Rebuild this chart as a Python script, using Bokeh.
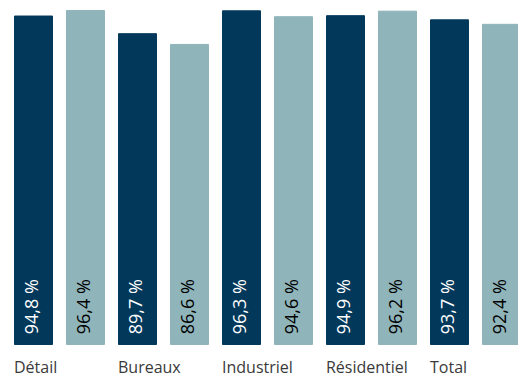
from bokeh.plotting import figure
from bokeh.models import ColumnDataSource, Range1d
from bokeh.core.properties import value
from bokeh.embed import file_html
from bokeh.resources import INLINE

categories = ["Détail", "Bureaux", "Industriel", "Résidentiel", "Total"]
series_a = [94.8, 89.7, 96.3, 94.9, 93.7]
series_b = [96.4, 86.6, 94.6, 96.2, 92.4]

dark = "#02385a"
light = "#8fb4ba"
bar_w = 0.73

def fmt(v):
    return f"{v:.1f}".replace(".", ",") + " %"

xa = [2 * i for i in range(len(categories))]
xb = [2 * i + 1 for i in range(len(categories))]

src_a = ColumnDataSource(dict(x=xa, top=series_a, lab=[fmt(v) for v in series_a]))
src_b = ColumnDataSource(dict(x=xb, top=series_b, lab=[fmt(v) for v in series_b]))
src_c = ColumnDataSource(dict(x=[v - bar_w / 2 - 0.01 for v in xa], lab=categories))

p = figure(width=518, height=375, output_backend="svg", toolbar_location=None,
           x_range=Range1d(-0.6346, 9.327), y_range=Range1d(-8.95, 99.28),
           min_border=0, min_border_left=0, min_border_right=0,
           min_border_top=0, min_border_bottom=0)
p.axis.visible = False
p.grid.visible = False
p.outline_line_color = None
p.background_fill_color = "white"
p.border_fill_color = "white"

p.vbar(x="x", top="top", bottom=0, width=bar_w, source=src_a, color=dark)
p.vbar(x="x", top="top", bottom=0, width=bar_w, source=src_b, color=light)

p.text(x="x", y=10.9, text="lab", source=src_a, angle=1.5708, text_align="center",
       text_baseline="middle", text_color="white", text_font=value("Open Sans"),
       text_font_size="18px", x_offset=-2)
p.text(x="x", y=10.9, text="lab", source=src_b, angle=1.5708, text_align="center",
       text_baseline="middle", text_color="black", text_font=value("Open Sans"),
       text_font_size="18px", x_offset=-2)

p.text(x="x", y=-6.64, text="lab", source=src_c, text_align="left",
       text_baseline="alphabetic", text_color="#3a3a3a", text_font=value("Open Sans"),
       text_font_size="16px")

open("out.html", "w").write(file_html(p, INLINE))
